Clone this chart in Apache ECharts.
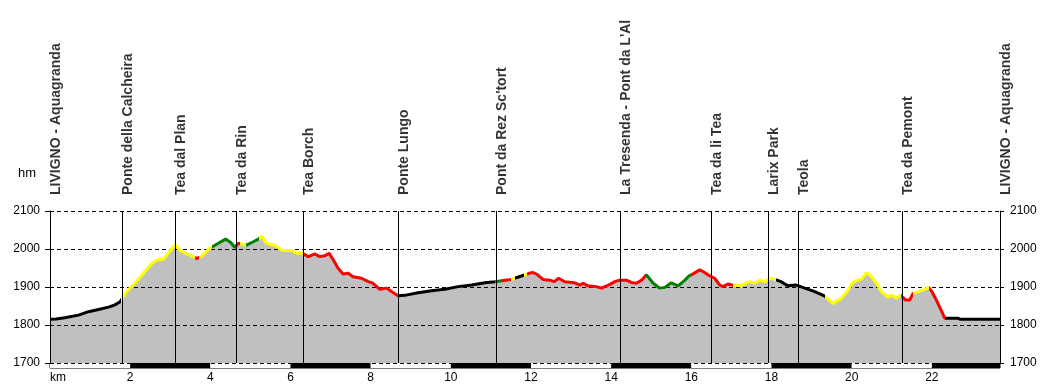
<!DOCTYPE html>
<html>
<head>
<meta charset="utf-8">
<script src="https://cdn.jsdelivr.net/npm/echarts@6/dist/echarts.min.js"></script>
<style>html,body{margin:0;padding:0;background:#fff;}#c{width:1050px;height:388px;}</style>
</head>
<body>
<div id="c"></div>
<script>
// Profile: distance (km) and elevation (m)
const kmValues = [0,0.15,0.37,0.71,0.96,1.21,1.46,1.62,1.75,1.91,2.12,2.33,2.54,2.66,2.83,2.95,3.12,3.24,3.41,3.53,3.66,3.78,3.95,4.05,4.2,4.38,4.51,4.61,4.7,4.79,4.9,5.07,5.2,5.28,5.4,5.61,5.78,6.03,6.15,6.28,6.44,6.61,6.73,6.86,6.96,7.07,7.19,7.31,7.44,7.56,7.77,7.94,8.05,8.23,8.4,8.52,8.68,8.85,9.18,9.52,9.85,10.18,10.52,10.85,11.1,11.35,11.51,11.76,11.95,12.05,12.14,12.3,12.47,12.58,12.69,12.84,13.09,13.22,13.3,13.42,13.63,13.76,13.84,13.97,14.09,14.21,14.38,14.5,14.63,14.76,14.88,15.05,15.21,15.34,15.5,15.67,15.84,15.94,16.0,16.21,16.33,16.46,16.58,16.71,16.79,16.91,17.04,17.21,17.46,17.58,17.71,17.83,17.96,18.08,18.24,18.41,18.62,18.83,19.08,19.33,19.53,19.74,19.9,20.0,20.11,20.24,20.37,20.49,20.62,20.74,20.91,21.0,21.12,21.22,21.34,21.45,21.53,21.7,21.82,21.92,22.0,22.11,22.23,22.32,22.65,22.7,23.7];
const elevValues = [1815,1816,1819,1826,1835,1841,1847,1853,1861,1888,1910,1936,1962,1971,1973,1989,2011,1996,1987,1982,1975,1980,1999,2006,2015,2026,2017,2004,2015,2013,2010,2019,2026,2034,2015,2010,1997,1996,1989,1990,1980,1987,1980,1982,1989,1971,1949,1934,1936,1927,1923,1914,1910,1894,1897,1888,1877,1878,1885,1890,1894,1901,1905,1911,1914,1918,1920,1929,1936,1938,1934,1920,1918,1914,1923,1914,1911,1905,1910,1903,1901,1897,1901,1907,1914,1918,1918,1912,1910,1918,1932,1910,1897,1899,1911,1903,1918,1929,1932,1945,1938,1929,1923,1905,1901,1908,1905,1903,1914,1910,1918,1914,1923,1920,1914,1903,1905,1897,1888,1876,1857,1870,1890,1908,1917,1920,1938,1927,1910,1888,1873,1879,1870,1879,1866,1866,1883,1889,1894,1899,1888,1866,1839,1818,1818,1815,1815];

// Difficulty colour segments along the route
const segStart = [0,1.77,3.62,3.72,4.05,4.63,4.75,4.88,5.22,6.32,8.68,11.09,11.24,11.51,11.59,11.83,11.89,14.88,16.0,17.04,18.1,19.33,21.22,21.53,21.92,22.32];
const segEnd   = [1.77,3.62,3.72,4.05,4.63,4.75,4.88,5.22,6.32,8.68,11.09,11.24,11.51,11.59,11.83,11.89,14.88,16.0,17.04,18.1,19.33,21.22,21.53,21.92,22.32,23.8];
const segColor = ['#000000','#ffff00','#ff0000','#ffff00','#008000','#ff0000','#ffff00','#008000','#ffff00','#ff0000','#000000','#008000','#ff0000','#ffff00','#000000','#ffff00','#ff0000','#008000','#ff0000','#ffff00','#000000','#ffff00','#ff0000','#ffff00','#ff0000','#000000'];

// Waypoints
const waypointNames = ['LIVIGNO - Aquagranda','Ponte della Calcheira','Tea dal Plan','Tea da Rin','Tea Borch','Ponte Lungo',"Pont da Rez Sc'tort","La Tresenda - Pont da L'Al",'Tea da li Tea','Larix Park','Teola','Tea da Pemont','LIVIGNO - Aquagranda'];
const waypointKm = [0,1.79,3.13,4.65,6.31,8.68,11.13,14.22,16.5,17.92,18.66,21.25,23.7];

const kmMax = 23.7;
const yMin = 1700, yMax = 2100, yStep = 100, xStep = 2;
const FONT = 'Liberation Sans, Arial, sans-serif';

const profile = kmValues.map((k, i) => [k, elevValues[i]]);
const pieces = segStart.map((s, i) => ({ gte: s, lt: segEnd[i], color: segColor[i] }));

const chart = echarts.init(document.getElementById('c'), null, { renderer: 'canvas' });
chart.setOption({
  animation: false,
  backgroundColor: '#fff',
  textStyle: { fontFamily: FONT },
  grid: [
    { left: 50, right: 50, top: 211, bottom: 25, containLabel: false },
    { left: 50, right: 50, top: 363, height: 5, show: true, borderColor: '#000', borderWidth: 1, backgroundColor: 'transparent' }
  ],
  xAxis: [
    { type: 'value', gridIndex: 0, min: 0, max: kmMax, interval: xStep,
      axisLine: { show: false }, axisTick: { show: false }, axisLabel: { show: false }, splitLine: { show: false } },
    { type: 'value', gridIndex: 1, min: 0, max: kmMax, interval: xStep,
      axisLine: { show: false }, axisTick: { show: false }, splitLine: { show: false },
      splitArea: { show: true, areaStyle: { color: ['#ffffff', '#000000'] } },
      axisLabel: { show: true, margin: 4, fontSize: 12, color: '#000', fontFamily: FONT,
        showMaxLabel: false, alignMinLabel: 'left',
        formatter: v => v === 0 ? 'km' : (Math.abs(v % 2) < 1e-9 ? String(v) : '') } }
  ],
  yAxis: [
    { type: 'value', gridIndex: 0, min: yMin, max: yMax, interval: yStep, z: 3,
      name: 'hm', nameLocation: 'end', nameGap: 38,
      nameTextStyle: { fontSize: 13, color: '#000', align: 'right', verticalAlign: 'middle', padding: [0, 14, 0, 0], fontFamily: FONT },
      axisLine: { show: true, lineStyle: { color: '#000', width: 1 } },
      axisTick: { show: true, length: 5, lineStyle: { color: '#000' } },
      axisLabel: { margin: 10, fontSize: 12, color: '#000', fontFamily: FONT, formatter: v => String(v) },
      splitLine: { show: true, lineStyle: { color: '#000', width: 1, type: [4, 3] } } },
    { type: 'value', gridIndex: 0, min: yMin, max: yMax, interval: yStep, position: 'right', z: 3,
      axisLine: { show: true, lineStyle: { color: '#000', width: 1 } },
      axisTick: { show: true, length: 4, lineStyle: { color: '#000' } },
      axisLabel: { margin: 10, fontSize: 12, color: '#000', fontFamily: FONT, formatter: v => String(v) },
      splitLine: { show: false } },
    { type: 'value', gridIndex: 1, show: false, min: 0, max: 1 }
  ],
  visualMap: {
    type: 'piecewise', show: false, dimension: 0, seriesIndex: 2, pieces: pieces
  },
  series: [
    { type: 'scatter', xAxisIndex: 0, yAxisIndex: 0, z: 1, symbolSize: 0, silent: true, clip: false,
      data: waypointKm.map(k => [k, yMax]),
      label: { show: true, rotate: 90, align: 'left', verticalAlign: 'middle', offset: [16, 6],
        fontSize: 14, fontWeight: 'bold', color: '#000', fontFamily: FONT,
        formatter: p => waypointNames[p.dataIndex] },
      markLine: { silent: true, symbol: ['none', 'none'], animation: false,
        label: { show: false },
        lineStyle: { color: '#000', width: 1, type: 'solid' },
        data: waypointKm.map(k => ({ xAxis: k })) } },
    { type: 'line', xAxisIndex: 0, yAxisIndex: 0, z: 2, data: profile, showSymbol: false, silent: true,
      lineStyle: { width: 0 }, areaStyle: { color: '#c0c0c0', opacity: 1, origin: 'start' } },
    { type: 'line', xAxisIndex: 0, yAxisIndex: 0, z: 4, data: profile, showSymbol: false, silent: true,
      lineStyle: { width: 3 } }
  ]
});
</script>
</body>
</html>
